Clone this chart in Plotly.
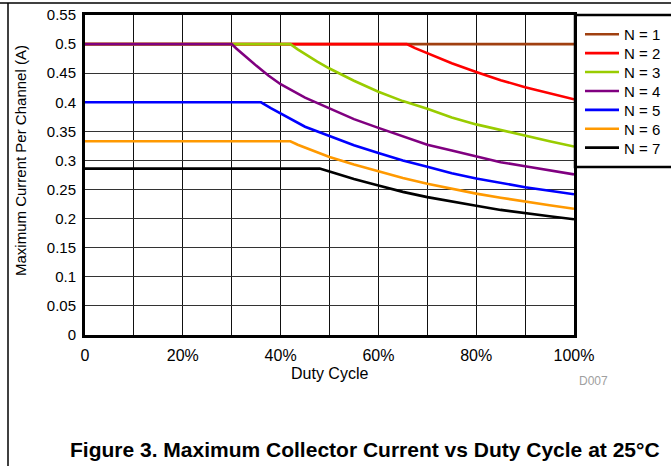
import plotly.graph_objects as go

# Duty cycle (%) and maximum current per channel (A)
names = ["N = 1", "N = 2", "N = 3", "N = 4", "N = 5", "N = 6", "N = 7"]
colors = ["#A04010", "#FF0000", "#99CC00", "#800080", "#0000FF", "#FF9900", "#000000"]

duty_n1 = [0, 100]
cur_n1 = [0.5, 0.5]

duty_n2 = [0, 65.8, 67.5, 70, 75, 80, 85, 90, 95, 100]
cur_n2 = [0.5, 0.5, 0.493, 0.484, 0.467, 0.452, 0.438, 0.426, 0.415, 0.405]

duty_n3 = [0, 42, 43.5, 45, 47.5, 50, 55, 60, 65, 70, 75, 80, 85, 90, 95, 100]
cur_n3 = [0.5, 0.5, 0.491, 0.483, 0.470, 0.458, 0.437, 0.418, 0.402, 0.389, 0.374, 0.362, 0.352, 0.342, 0.333, 0.324]

duty_n4 = [0, 30, 31, 32.5, 35, 37.5, 40, 45, 50, 55, 60, 65, 70, 75, 80, 85, 90, 95, 100]
cur_n4 = [0.5, 0.5, 0.492, 0.481, 0.463, 0.446, 0.431, 0.408, 0.390, 0.371, 0.356, 0.341, 0.327, 0.317, 0.307, 0.297, 0.290, 0.283, 0.276]

duty_n5 = [0, 36, 38, 40, 42.5, 45, 50, 55, 60, 65, 70, 75, 80, 85, 90, 95, 100]
cur_n5 = [0.4, 0.4, 0.390, 0.381, 0.369, 0.358, 0.342, 0.326, 0.313, 0.300, 0.289, 0.278, 0.269, 0.261, 0.254, 0.248, 0.242]

duty_n6 = [0, 42, 43.5, 45, 47.5, 50, 55, 60, 65, 70, 75, 80, 85, 90, 95, 100]
cur_n6 = [0.333, 0.333, 0.327, 0.322, 0.314, 0.306, 0.293, 0.281, 0.270, 0.260, 0.251, 0.243, 0.236, 0.229, 0.223, 0.217]

duty_n7 = [0, 48, 50, 52.5, 55, 60, 65, 70, 75, 80, 85, 90, 95, 100]
cur_n7 = [0.286, 0.286, 0.281, 0.274, 0.268, 0.257, 0.246, 0.237, 0.229, 0.222, 0.215, 0.209, 0.204, 0.199]

x_tickvals = [0, 20, 40, 60, 80, 100]
x_ticktext = ["0", "20%", "40%", "60%", "80%", "100%"]
y_tickvals = [0, 0.05, 0.1, 0.15, 0.2, 0.25, 0.3, 0.35, 0.4, 0.45, 0.5, 0.55]
y_ticktext = ["0", "0.05", "0.1", "0.15", "0.2", "0.25", "0.3", "0.35", "0.4", "0.45", "0.5", "0.55"]

x_title = "Duty Cycle"
y_title = "Maximum Current Per Channel (A)"
caption = "Figure 3. Maximum Collector Current vs Duty Cycle at 25°C"
code_label = "D007"

series = [
    (duty_n1, cur_n1), (duty_n2, cur_n2), (duty_n3, cur_n3), (duty_n4, cur_n4),
    (duty_n5, cur_n5), (duty_n6, cur_n6), (duty_n7, cur_n7),
]

W, H = 671, 466
L, R, T, B = 85, 574, 15, 335  # plot area in pixels


def px(xp):
    return (xp - L) / (R - L)


def py(yp):
    return (B - yp) / (B - T)


FONT = "Liberation Sans, Arial, sans-serif"

fig = go.Figure()
legend_layouts = {}
for i, (name, color, (xs, ys)) in enumerate(zip(names, colors, series)):
    key = "legend" if i == 0 else f"legend{i + 1}"
    fig.add_trace(go.Scatter(x=xs, y=ys, mode="lines", name=name, legend=key,
                             line=dict(color=color, width=2.6)))
    legend_layouts[key] = dict(
        x=px(580), y=py(34.5 + 18.9 * i), xanchor="left", yanchor="middle",
        bgcolor="rgba(0,0,0,0)", borderwidth=0, itemwidth=34,
        font=dict(size=15, family=FONT, color="black"))

fig.update_layout(
    width=W, height=H,
    margin=dict(l=L, r=W - R, t=T, b=H - B, pad=0, autoexpand=False),
    paper_bgcolor="white", plot_bgcolor="white",
    font=dict(family=FONT, color="black", size=15),
    showlegend=True,
    xaxis=dict(range=[0, 100], tickvals=x_tickvals, ticktext=x_ticktext,
               showgrid=True, gridcolor="#111", gridwidth=1,
               minor=dict(dtick=10, tick0=0, showgrid=True, gridcolor="#111", gridwidth=1),
               showline=True, linecolor="black", linewidth=3, mirror=True,
               ticks="", zeroline=False, ticklabelstandoff=4, automargin=False,
               tickfont=dict(size=16, family=FONT)),
    yaxis=dict(range=[0, 0.55], tickvals=y_tickvals, ticktext=y_ticktext,
               showgrid=True, gridcolor="#333", gridwidth=1,
               showline=True, linecolor="black", linewidth=3, mirror=True,
               ticks="", zeroline=False, ticklabelstandoff=3, automargin=False,
               tickfont=dict(size=15, family=FONT)),
    **legend_layouts,
)

# axis titles, code label and caption
fig.add_annotation(text=x_title, xref="paper", yref="paper", x=px(329), y=py(373),
                   showarrow=False, font=dict(size=16, family=FONT), xanchor="center", yanchor="middle")
fig.add_annotation(text=y_title, xref="paper", yref="paper", x=px(20), y=py(161),
                   showarrow=False, textangle=-90, font=dict(size=15, family=FONT),
                   xanchor="center", yanchor="middle")
fig.add_annotation(text=code_label, xref="paper", yref="paper", x=px(593), y=py(381),
                   showarrow=False, font=dict(size=12, family=FONT, color="#A0A0A0"),
                   xanchor="center", yanchor="middle")
fig.add_annotation(text="<b>" + caption + "</b>", xref="paper", yref="paper", x=px(68), y=py(449),
                   showarrow=False, font=dict(size=21, family=FONT), xanchor="left", yanchor="middle")

# frame lines of the figure and legend box
fig.add_shape(type="line", xref="paper", yref="paper", x0=px(0), x1=px(W), y0=py(3), y1=py(3),
              line=dict(color="black", width=1.5))
fig.add_shape(type="line", xref="paper", yref="paper", x0=px(8), x1=px(8), y0=py(3), y1=py(H + 5),
              line=dict(color="black", width=1.5))
fig.add_shape(type="rect", xref="paper", yref="paper", x0=px(575), x1=px(705), y0=py(167), y1=py(15),
              line=dict(color="black", width=2.5))

fig.write_html("out.html", config={"displayModeBar": False},
               post_script="document.body.style.margin='0';")
